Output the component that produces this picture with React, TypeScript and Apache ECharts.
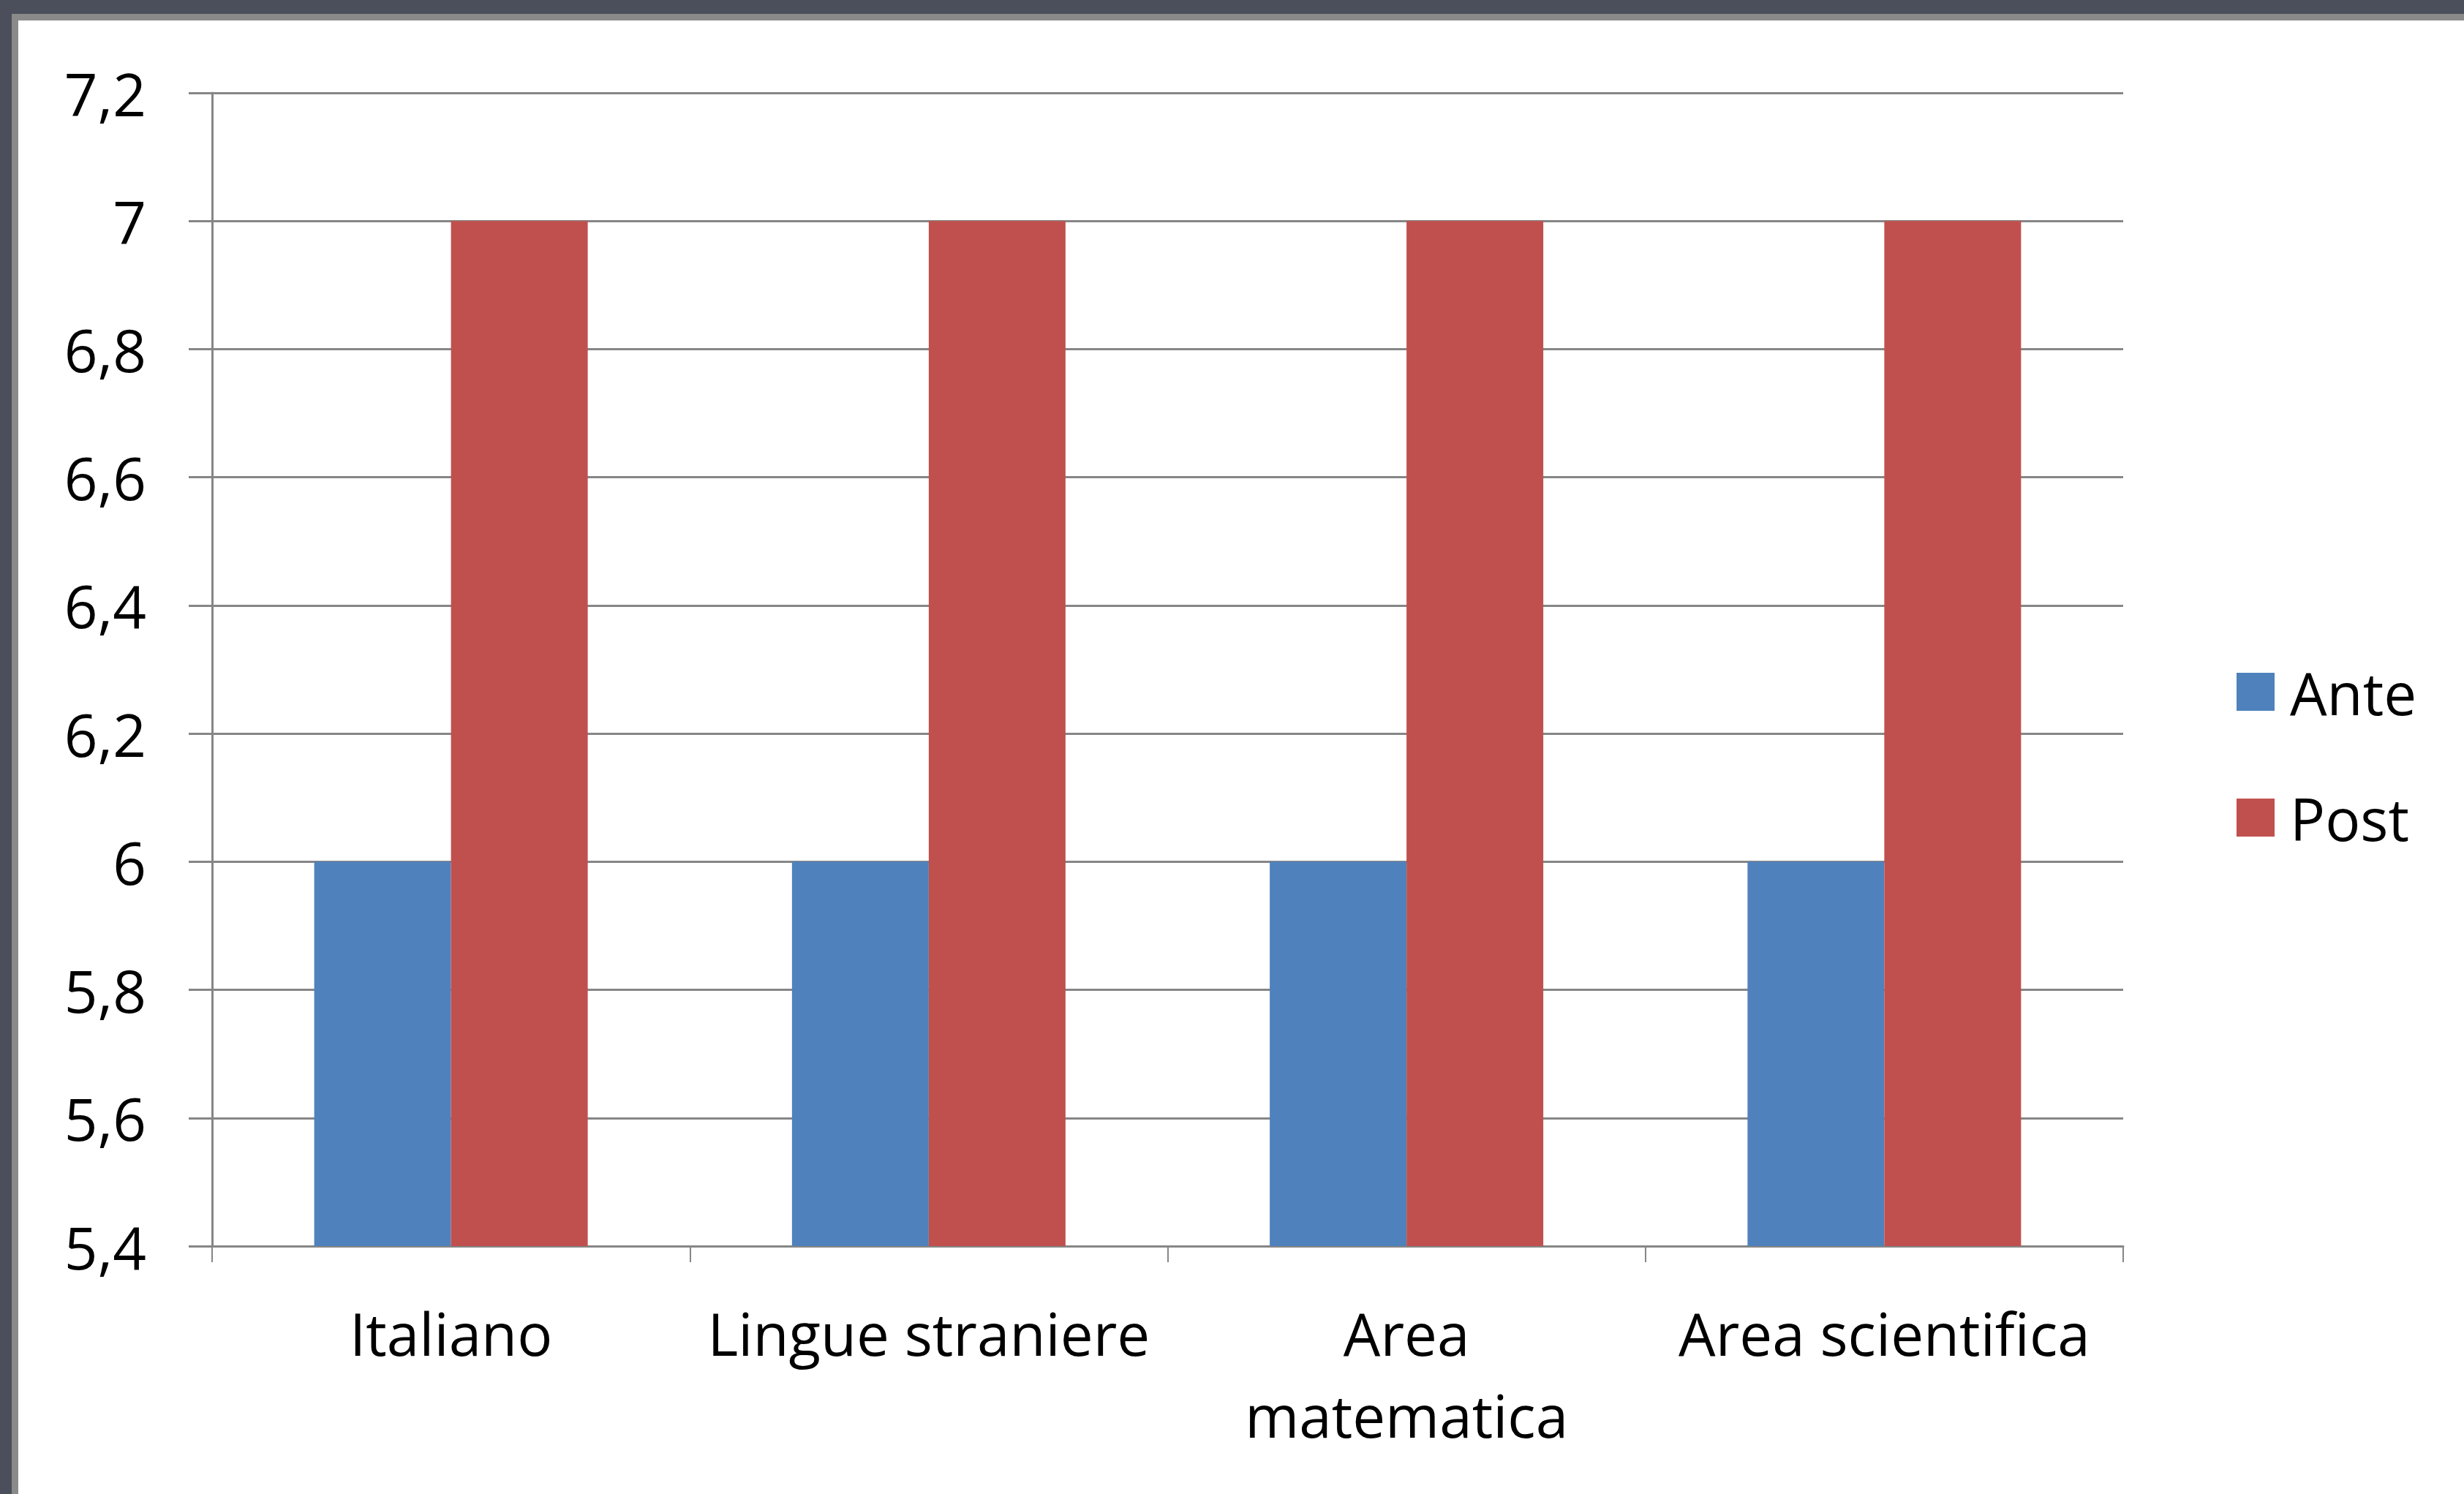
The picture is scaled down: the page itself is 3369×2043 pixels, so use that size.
import React, { useEffect, useRef } from "react";
import * as echarts from "echarts";

const categories = ["Italiano", "Lingue straniere", "Area matematica", "Area scientifica"];
const categoryLabels = ["Italiano", "Lingue straniere", "Area\nmatematica", "Area scientifica"];
const seriesNames = ["Ante", "Post"];
const anteValues = [6, 6, 6, 6];
const postValues = [7, 7, 7, 7];
const yMin = 5.4;
const yMax = 7.2;
const yStep = 0.2;

const FONT = "'Open Sans', 'Noto Sans', sans-serif";
const GRAY = "#868686";

export default function App() {
  const ref = useRef<HTMLDivElement>(null);

  useEffect(() => {
    document.body.style.margin = "0";
    const el = ref.current!;
    const chart = echarts.init(el, undefined, { renderer: "svg" });
    const W = el.clientWidth;
    const H = el.clientHeight;
    chart.setOption({
      animation: false,
      backgroundColor: "#4b4f5c",
      textStyle: { fontFamily: FONT },
      graphic: [
        {
          type: "rect",
          z: -100,
          silent: true,
          shape: { x: 16, y: 19, width: W, height: H },
          style: { fill: "#8a8a8a" },
        },
        {
          type: "rect",
          z: -99,
          silent: true,
          shape: { x: 25, y: 28, width: W, height: H },
          style: { fill: "#ffffff" },
        },
      ],
      color: ["#4F81BD", "#C0504D"],
      grid: { left: 290, right: W - 2903, top: 127, bottom: H - 1704, containLabel: false },
      legend: {
        data: seriesNames,
        orient: "vertical",
        left: 3053,
        top: 901,
        itemWidth: 52,
        itemHeight: 52,
        itemGap: 92,
        icon: "rect",
        selectedMode: false,
        textStyle: { fontFamily: FONT, fontSize: 80, color: "#000", padding: [0, 0, 0, 16] },
      },
      xAxis: {
        type: "category",
        data: categories,
        axisLine: { show: true, lineStyle: { color: GRAY, width: 3 } },
        axisTick: { show: true, length: 22, lineStyle: { color: GRAY, width: 2 } },
        axisLabel: {
          margin: 62,
          fontFamily: FONT,
          fontSize: 80,
          lineHeight: 112,
          color: "#000",
          interval: 0,
          formatter: (_v: string, i: number) => categoryLabels[i],
        },
        splitLine: { show: false },
      },
      yAxis: {
        type: "value",
        min: yMin,
        max: yMax,
        interval: yStep,
        axisLine: { show: true, lineStyle: { color: GRAY, width: 3 } },
        axisTick: { show: true, length: 32, lineStyle: { color: GRAY, width: 3 } },
        axisLabel: {
          margin: 90,
          fontFamily: FONT,
          fontSize: 80,
          color: "#000",
          formatter: (v: number) => String(Number(v.toFixed(1))).replace(".", ","),
        },
        splitLine: { show: true, lineStyle: { color: GRAY, width: 3 } },
      },
      series: [
        {
          name: seriesNames[0],
          type: "bar",
          data: anteValues,
          barWidth: 187,
          barGap: "0%",
          itemStyle: { color: "#4F81BD" },
        },
        {
          name: seriesNames[1],
          type: "bar",
          data: postValues,
          barWidth: 187,
          barGap: "0%",
          itemStyle: { color: "#C0504D" },
        },
      ],
    });
    return () => chart.dispose();
  }, []);

  return (
    <div
      ref={ref}
      style={{ position: "fixed", left: 0, top: 0, width: "100vw", height: "100vh" }}
    />
  );
}
